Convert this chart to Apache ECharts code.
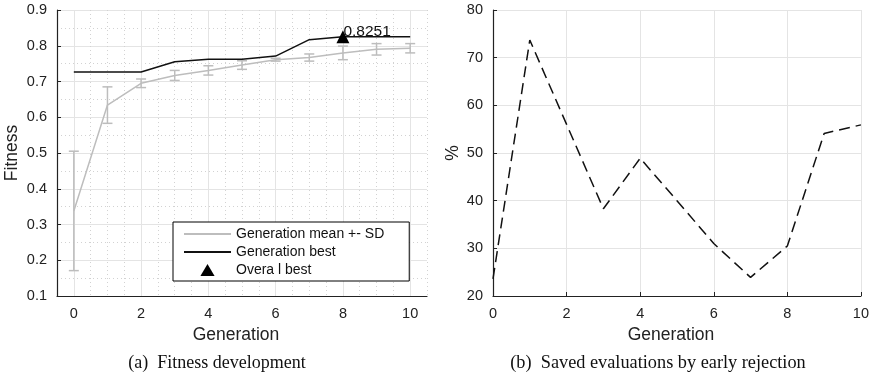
<!DOCTYPE html>
<html>
<head>
<meta charset="utf-8">
<script src="https://cdn.jsdelivr.net/npm/echarts@6/dist/echarts.min.js"></script>
<style>
  html, body { margin: 0; padding: 0; background: #fff; }
  #chart { width: 872px; height: 379px; }
</style>
</head>
<body>
<div id="chart"></div>
<script>
// generations 0..10
const generations = [0, 1, 2, 3, 4, 5, 6, 7, 8, 9, 10];
// (a) fitness: generation mean, its standard deviation, generation best
const meanFitness = [0.338, 0.634, 0.695, 0.717, 0.731, 0.746, 0.761, 0.767, 0.780, 0.790, 0.793];
const sdFitness = [0.167, 0.051, 0.012, 0.014, 0.013, 0.012, 0.004, 0.010, 0.019, 0.016, 0.013];
const bestFitness = [0.7265, 0.7265, 0.7265, 0.755, 0.762, 0.762, 0.771, 0.817, 0.8251, 0.8251, 0.8251];
const overallBest = [8, 0.8251];
// (b) saved evaluations in percent
const savedPercent = [23.6, 73.7, 56, 38.3, 48.9, 40, 31, 23.9, 30.5, 54.1, 55.9];

const fitnessTicks = [0.1, 0.2, 0.3, 0.4, 0.5, 0.6, 0.7, 0.8, 0.9];
const percentTicks = [20, 30, 40, 50, 60, 70, 80];

const font = "'Liberation Sans', Arial, sans-serif";
const serif = "'Liberation Serif', 'Times New Roman', serif";
const ink = "#111";
const axisInk = "#222";
const gridMajor = "#e4e4e4";
const gridMinor = "#d2d2d2";
const meanGray = "#bdbdbd";
const clear = "rgba(0,0,0,0)";

const chart = echarts.init(document.getElementById("chart"), null, { renderer: "canvas" });

const tickLabel = { color: axisInk, fontFamily: font, fontSize: 14.5, margin: 10 };
const axisName = { color: axisInk, fontFamily: font, fontSize: 17.5 };
const xName = Object.assign({}, axisName, { padding: [0, 12, 0, 0] });
const noSymbol = { color: clear, borderColor: clear, borderWidth: 0, opacity: 0 };

chart.setOption({
  animation: false,
  backgroundColor: "#fff",
  graphic: [
    { type: "text", x: 217, y: 363, style: { text: "(a)  Fitness development", align: "center", verticalAlign: "middle",
      font: "18px " + serif, fill: ink } },
    { type: "text", x: 658, y: 363, style: { text: "(b)  Saved evaluations by early rejection", align: "center", verticalAlign: "middle",
      font: "18.3px " + serif, fill: ink } }
  ],
  grid: [
    { left: 57, top: 10, width: 370, height: 286 },
    { left: 493, top: 10, width: 370, height: 286 }
  ],
  xAxis: [
    {
      gridIndex: 0, type: "value", min: -0.5, max: 10.5, interval: 0.5,
      name: "Generation", nameLocation: "middle", nameGap: 30, nameTextStyle: xName,
      axisLine: { show: true, onZero: false, lineStyle: { color: axisInk, width: 1.2 } },
      axisTick: { show: false },
      axisLabel: Object.assign({}, tickLabel, {
        formatter: (v) => (Math.abs(v - Math.round(v)) < 1e-6 && Math.round(v) % 2 === 0 ? String(Math.round(v)) : "")
      }),
      splitLine: { show: true, lineStyle: { color: gridMinor, type: [1, 3], width: 1 } }
    },
    {
      gridIndex: 0, type: "value", min: -0.5, max: 10.5, interval: 0.5,
      axisLine: { show: false }, axisTick: { show: false }, axisLabel: { show: false },
      splitLine: { show: true, lineStyle: { color: [clear, gridMajor, clear, clear], width: 1 } }
    },
    {
      gridIndex: 1, type: "value", min: 0, max: 10, interval: 2,
      name: "Generation", nameLocation: "middle", nameGap: 30, nameTextStyle: xName,
      axisLine: { show: true, onZero: false, lineStyle: { color: axisInk, width: 1.2 } },
      axisTick: { show: true, inside: true, length: 4, lineStyle: { color: axisInk } },
      axisLabel: tickLabel,
      splitLine: { show: true, lineStyle: { color: gridMajor, width: 1 } }
    }
  ],
  yAxis: [
    {
      gridIndex: 0, type: "value", min: fitnessTicks[0], max: fitnessTicks[fitnessTicks.length - 1], interval: 0.1,
      name: "Fitness", nameLocation: "middle", nameGap: 36, nameTextStyle: axisName,
      axisLine: { show: true, onZero: false, lineStyle: { color: axisInk, width: 1.2 } },
      axisTick: { show: true, inside: true, length: 4, lineStyle: { color: axisInk } },
      axisLabel: Object.assign({}, tickLabel, { formatter: (v) => v.toFixed(1) }),
      splitLine: { show: true, lineStyle: { color: gridMajor, width: 1 } },
      minorTick: { show: false, splitNumber: 2 },
      minorSplitLine: { show: true, lineStyle: { color: gridMinor, type: [1, 3], width: 1 } }
    },
    {
      gridIndex: 1, type: "value", min: percentTicks[0], max: percentTicks[percentTicks.length - 1], interval: 10,
      name: "%", nameLocation: "middle", nameGap: 31, nameTextStyle: axisName,
      axisLine: { show: true, onZero: false, lineStyle: { color: axisInk, width: 1.2 } },
      axisTick: { show: true, inside: true, length: 4, lineStyle: { color: axisInk } },
      axisLabel: tickLabel,
      splitLine: { show: true, lineStyle: { color: gridMajor, width: 1 } }
    }
  ],
  legend: {
    left: 173, top: 222, orient: "vertical",
    padding: [5, 25, 4, 10], itemGap: 4, itemWidth: 47, itemHeight: 12,
    backgroundColor: "#fff", borderColor: "#000", borderWidth: 1, borderRadius: 0,
    textStyle: { fontFamily: font, fontSize: 14, color: ink, lineHeight: 14 },
    data: [
      { name: "Generation mean +- SD", itemStyle: noSymbol },
      { name: "Generation best", itemStyle: noSymbol },
      { name: "Overa l best", icon: "path://M0,11 L6.5,0 L13,11 Z", itemStyle: { color: "#000", opacity: 1 } }
    ]
  },
  series: [
    {
      name: "sd", type: "custom", xAxisIndex: 0, yAxisIndex: 0, z: 2, silent: true,
      data: generations.map((g, i) => [g, meanFitness[i] - sdFitness[i], meanFitness[i] + sdFitness[i]]),
      renderItem: (params, api) => {
        const lo = api.coord([api.value(0), api.value(1)]);
        const hi = api.coord([api.value(0), api.value(2)]);
        const w = 5;
        const style = { stroke: meanGray, lineWidth: 1.5, fill: null };
        return {
          type: "group",
          children: [
            { type: "line", shape: { x1: lo[0], y1: lo[1], x2: hi[0], y2: hi[1] }, style },
            { type: "line", shape: { x1: lo[0] - w, y1: lo[1], x2: lo[0] + w, y2: lo[1] }, style },
            { type: "line", shape: { x1: hi[0] - w, y1: hi[1], x2: hi[0] + w, y2: hi[1] }, style }
          ]
        };
      }
    },
    {
      name: "Generation mean +- SD", type: "line", xAxisIndex: 0, yAxisIndex: 0, z: 3,
      symbol: "none", color: meanGray, lineStyle: { color: meanGray, width: 1.5 },
      data: generations.map((g, i) => [g, meanFitness[i]])
    },
    {
      name: "Generation best", type: "line", xAxisIndex: 0, yAxisIndex: 0, z: 4,
      symbol: "none", color: ink, lineStyle: { color: ink, width: 1.5 },
      data: generations.map((g, i) => [g, bestFitness[i]])
    },
    {
      name: "Overa l best", type: "scatter", xAxisIndex: 0, yAxisIndex: 0, z: 5,
      symbol: "triangle", symbolSize: 13, color: "#000",
      itemStyle: { color: "#000", opacity: 1 },
      label: {
        show: true, position: "right", distance: 0, offset: [-6, -5],
        formatter: (p) => p.value[1].toFixed(4),
        fontFamily: font, fontSize: 15.5, color: ink
      },
      data: [overallBest]
    },
    {
      name: "saved", type: "line", xAxisIndex: 2, yAxisIndex: 1,
      symbol: "none", color: ink,
      lineStyle: { color: ink, width: 1.5, type: [11, 6] },
      data: generations.map((g, i) => [g, savedPercent[i]])
    }
  ]
});
</script>
</body>
</html>
